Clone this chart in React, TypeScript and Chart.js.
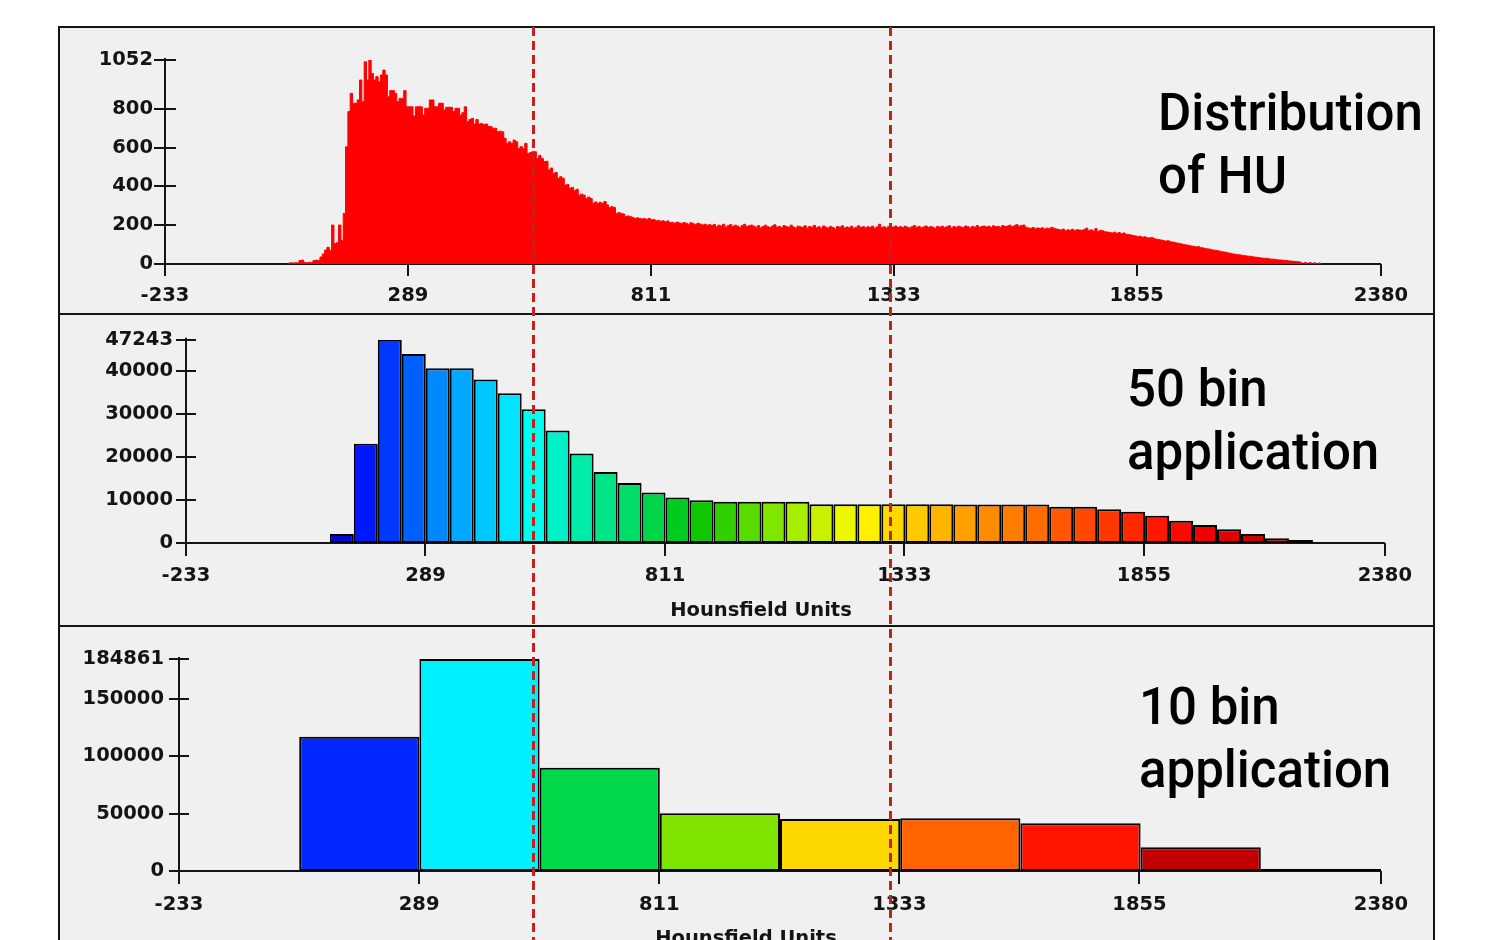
import React, { useEffect, useRef } from "react";
import { Chart, registerables } from "chart.js";

Chart.register(...registerables);

// ---------- shared axis ----------
const X_MIN = -233;
const X_MAX = 2380;
const X_TICKS = [-233, 289, 811, 1333, 1855, 2380];

// ---------- panel 1 : fine distribution of HU ----------
const HIST_START = 30; // HU of first bin
const HIST_BIN = 5; // HU per bin
const HIST_Y_TICKS = [0, 200, 400, 600, 800, 1052];
const HIST_VALUES = [
  4, 6, 5, 7, 6, 18, 20, 8, 6, 9,
  8, 18, 20, 19, 36, 52, 72, 86, 70, 201,
  105, 110, 201, 122, 261, 605, 786, 880, 829, 829,
  846, 949, 837, 1043, 949, 1052, 983, 949, 966, 940,
  975, 1000, 975, 863, 894, 894, 880, 837, 854, 854,
  894, 811, 811, 811, 763, 811, 811, 811, 768, 803,
  803, 846, 846, 811, 811, 829, 829, 794, 808, 808,
  808, 786, 803, 803, 768, 780, 811, 734, 745, 751,
  722, 745, 722, 725, 718, 722, 710, 708, 700, 700,
  682, 685, 682, 648, 622, 630, 622, 639, 630, 596,
  605, 596, 622, 570, 575, 579, 579, 545, 560, 545,
  528, 530, 485, 495, 468, 472, 442, 450, 442, 407,
  410, 390, 395, 378, 385, 355, 360, 355, 338, 345,
  338, 313, 320, 313, 318, 313, 322, 305, 292, 295,
  292, 261, 265, 261, 258, 244, 248, 244, 240, 235,
  238, 235, 232, 235, 230, 235, 228, 230, 223, 225,
  220, 223, 218, 222, 213, 215, 210, 216, 212, 208,
  214, 210, 205, 213, 208, 204, 210, 206, 201, 205,
  200, 203,
  198, 204, 192, 200, 196, 205, 190, 198, 203, 194, 200, 196, 188, 199, 205, 193, 197, 201,
  195, 190, 198, 186, 194, 200, 192, 188, 196, 202, 190, 194, 187, 198, 193, 189, 200, 191, 186, 195,
  192, 188, 197, 185, 193, 190, 199, 187, 192, 184, 196, 190, 186, 194, 188, 182, 193, 189, 197, 186,
  191, 187, 195, 184, 190, 197, 188, 193, 186, 192, 189, 195, 185, 191, 205, 188, 192, 186, 194, 189,
  191, 196, 188, 193, 187, 195, 190, 186, 192, 198, 189, 194, 187, 191, 196, 188, 193, 190, 185, 194,
  190, 195, 188, 192, 197, 186, 193, 189, 195, 191, 188, 196, 192, 187, 194, 190, 198, 189, 193, 196,
  191, 195, 188, 197, 192, 194, 189, 198, 193, 196, 200, 192, 197, 203, 195, 199,
  201, 190, 186, 184, 188, 182, 186, 183, 187, 180, 185, 182, 189, 184, 181,
  178, 175, 180, 172, 176, 174, 179, 171, 177, 175, 173, 178, 185, 172, 176, 170, 182, 168, 174, 171, 166,
  165, 162, 160, 164, 158, 162, 156, 160, 154, 152, 150, 147,
  145, 141, 143, 138, 140, 136, 134, 137, 131, 128, 126,
  124, 121, 118, 120, 115, 113, 110, 108, 106, 103, 100, 98,
  96, 93, 91, 88, 90, 85, 83, 80, 78, 76, 73,
  71, 69, 67, 64, 62, 60, 57, 55, 52, 50,
  48, 47, 45, 43, 41, 40, 38, 36, 35, 33,
  31, 30, 29, 28, 26, 25, 24, 22, 21, 20, 19, 18,
  16, 15, 14, 13, 12,
  9, 0, 8, 0, 7, 0, 6, 0, 5, 0,
];

// ---------- panel 2 : 50 bins ----------
const BIN50_COUNT = 50;
const BIN50_Y_TICKS = [0, 10000, 20000, 30000, 40000, 47243];
const BIN50_VALUES = [
  0, 0, 0, 0, 0, 0, 2080, 23090, 47243, 43930,
  40600, 40600, 37980, 34800, 31100, 26170, 20770, 16520, 13970, 11740,
  10580, 9960, 9570, 9570, 9570, 9570, 9030, 9030, 9000, 9000,
  9000, 9000, 8960, 8960, 8960, 8960, 8400, 8400, 7870, 7250,
  6330, 5170, 4170, 3170, 2080, 1080, 700, 80, 0, 0,
];
const BIN50_COLORS = [
  "#0000c8", "#0000c8", "#0000c8", "#0000c8", "#0000c8", "#0000c8", "#0008d8", "#0018ff", "#0038ff", "#0060ff",
  "#0088ff", "#00a8ff", "#00c8ff", "#00e4ff", "#00fff0", "#00f0c8", "#00eaa8", "#00e488", "#00dc68", "#00d448",
  "#00cc20", "#10c800", "#30d000", "#58dc00", "#80e600", "#a8ec00", "#c8f000", "#ecf800", "#fff000", "#ffd800",
  "#ffc800", "#ffb400", "#ffa000", "#ff8c00", "#ff7c00", "#ff6c00", "#ff5800", "#ff4800", "#ff3800", "#ff2800",
  "#ff1800", "#ff0800", "#f00000", "#e00000", "#cc0000", "#b80000", "#a00000", "#000000", "#000000", "#000000",
];

// ---------- panel 3 : 10 bins ----------
const BIN10_COUNT = 10;
const BIN10_Y_TICKS = [0, 50000, 100000, 150000, 184861];
const BIN10_VALUES = [0, 117100, 184861, 90000, 50300, 45300, 45900, 41600, 20700, 1800];
const BIN10_COLORS = [
  "#0028ff", "#0028ff", "#00f0ff", "#00d84a", "#80e400",
  "#ffd700", "#ff6400", "#ff1400", "#c00000", "#000000",
];

// ---------- styling ----------
const INK = "#141414";
const TICK_FONT = { family: "'DejaVu Sans', Verdana, sans-serif", size: 19.5, weight: "bold" as const };
const PANEL_BG = "#f0f0f0";

const axesPlugin = {
  id: "hAxes",
  beforeDatasetsDraw(chart: any, _args: any, opts: any) {
    const { ctx, chartArea, scales } = chart;
    const { left, right, top, bottom } = chartArea;
    const x = scales.x;
    const y = scales.y;
    ctx.save();
    ctx.strokeStyle = INK;
    ctx.lineWidth = 2;
    ctx.beginPath();
    ctx.moveTo(left, top - 2);
    ctx.lineTo(left, bottom + opts.xTick);
    ctx.moveTo(left, bottom);
    ctx.lineTo(right, bottom);
    y.ticks.forEach((t: any) => {
      const py = Math.round(y.getPixelForValue(t.value));
      ctx.moveTo(left - opts.yTick, py);
      ctx.lineTo(left + opts.yTick, py);
    });
    x.ticks.forEach((t: any) => {
      const px = Math.round(x.getPixelForValue(t.value));
      ctx.moveTo(px, bottom);
      ctx.lineTo(px, bottom + opts.xTick);
    });
    ctx.stroke();
    ctx.restore();
  },
};

function makeX(height: number, pad: number) {
  return {
    type: "linear" as const,
    min: X_MIN,
    max: X_MAX,
    bounds: "data" as const,
    offset: false,
    afterBuildTicks: (s: any) => {
      s.ticks = X_TICKS.map((v) => ({ value: v }));
    },
    afterFit: (s: any) => {
      s.height = height;
    },
    grid: { display: false, drawTicks: false, offset: false },
    border: { display: false },
    ticks: {
      autoSkip: false,
      maxRotation: 0,
      minRotation: 0,
      padding: pad,
      color: INK,
      font: TICK_FONT,
      callback: (v: any) => String(v),
    },
  };
}

function makeY(ticks: number[], width: number, pad: number) {
  return {
    type: "linear" as const,
    min: 0,
    max: ticks[ticks.length - 1],
    bounds: "data" as const,
    afterBuildTicks: (s: any) => {
      s.ticks = ticks.map((v) => ({ value: v }));
    },
    afterFit: (s: any) => {
      s.width = width;
    },
    grid: { display: false, drawTicks: false },
    border: { display: false },
    ticks: {
      autoSkip: false,
      padding: pad,
      color: INK,
      font: TICK_FONT,
      callback: (v: any) => String(v),
    },
  };
}

const basePlugins = { legend: { display: false }, tooltip: { enabled: false } };

function cfgHist(): any {
  return {
    type: "line",
    data: {
      datasets: [
        {
          data: HIST_VALUES.map((v, i) => ({ x: HIST_START + HIST_BIN * (i + 0.5), y: v })),
          stepped: "middle",
          fill: "origin",
          backgroundColor: "#ff0000",
          borderColor: "#ff0000",
          borderWidth: 1,
          pointRadius: 0,
        },
      ],
    },
    options: {
      responsive: false,
      animation: false,
      events: [],
      layout: { padding: { top: 32, right: 52, left: 0, bottom: 0 } },
      plugins: { ...basePlugins, hAxes: { xTick: 12, yTick: 11 } },
      scales: { x: makeX(49, 20), y: makeY(HIST_Y_TICKS, 105, 12) },
    },
    plugins: [axesPlugin],
  };
}

function cfgBins(values: number[], colors: string[], count: number, yTicks: number[], yWidth: number, yPad: number, top: number, right: number, xHeight: number, xPad: number): any {
  const w = (X_MAX - X_MIN) / count;
  return {
    type: "bar",
    data: {
      datasets: [
        {
          data: values.map((v, i) => ({ x: X_MIN + w * (i + 0.5), y: v })),
          backgroundColor: colors,
          borderColor: "#000000",
          borderWidth: 2,
          borderSkipped: false,
          inflateAmount: 0,
          barPercentage: 1,
          categoryPercentage: 1,
        },
      ],
    },
    options: {
      responsive: false,
      animation: false,
      events: [],
      layout: { padding: { top, right, left: 0, bottom: 0 } },
      plugins: { ...basePlugins, hAxes: { xTick: 13, yTick: 10 } },
      scales: { x: makeX(xHeight, xPad), y: makeY(yTicks, yWidth, yPad) },
    },
    plugins: [axesPlugin],
  };
}

const bigText: React.CSSProperties = {
  position: "absolute",
  fontFamily: "Roboto, 'Liberation Sans', sans-serif",
  fontWeight: 500,
  fontSize: 51,
  lineHeight: "63px",
  color: "#000",
  whiteSpace: "pre",
};

const axisTitle: React.CSSProperties = {
  position: "absolute",
  width: 300,
  textAlign: "center",
  fontFamily: "'DejaVu Sans', Verdana, sans-serif",
  fontWeight: "bold",
  fontSize: 19.5,
  lineHeight: "20px",
  color: INK,
  whiteSpace: "pre",
};

const dash: React.CSSProperties = {
  position: "absolute",
  top: 27,
  width: 3,
  height: 913,
  background: "repeating-linear-gradient(to bottom, #c81e1e 0px, #c81e1e 9px, transparent 9px, transparent 14px)",
};

export default function App() {
  const c1 = useRef<HTMLCanvasElement>(null);
  const c2 = useRef<HTMLCanvasElement>(null);
  const c3 = useRef<HTMLCanvasElement>(null);

  useEffect(() => {
    const charts = [
      new Chart(c1.current as HTMLCanvasElement, cfgHist()),
      new Chart(c2.current as HTMLCanvasElement, cfgBins(BIN50_VALUES, BIN50_COLORS, BIN50_COUNT, BIN50_Y_TICKS, 126, 13, 24, 40, 82, 21)),
      new Chart(c3.current as HTMLCanvasElement, cfgBins(BIN10_VALUES, BIN10_COLORS, BIN10_COUNT, BIN10_Y_TICKS, 119, 15, 32, 52, 86, 22)),
    ];
    return () => charts.forEach((c) => c.destroy());
  }, []);

  const canvasStyle = (top: number, h: number): React.CSSProperties => ({
    position: "absolute",
    left: 60,
    top,
    width: 1373,
    height: h,
    display: "block",
  });

  return (
    <div style={{ position: "absolute", left: 0, top: 0, width: 1489, height: 940, overflow: "hidden", background: "#fff" }}>
      <div style={{ position: "absolute", left: 58, top: 26, width: 1377, height: 1000, border: "2px solid #141414", boxSizing: "border-box", background: PANEL_BG }} />
      <div style={{ position: "absolute", left: 58, top: 313, width: 1377, height: 2, background: "#141414" }} />
      <div style={{ position: "absolute", left: 58, top: 625, width: 1377, height: 2, background: "#141414" }} />
      <canvas ref={c1} width={1373} height={285} style={canvasStyle(28, 285)} />
      <canvas ref={c2} width={1373} height={310} style={canvasStyle(315, 310)} />
      <canvas ref={c3} width={1373} height={330} style={canvasStyle(627, 330)} />
      <div style={{ ...bigText, left: 1158, top: 81 }}>{"Distribution\nof HU"}</div>
      <div style={{ ...bigText, left: 1127, top: 357 }}>{"50 bin\napplication"}</div>
      <div style={{ ...bigText, left: 1139, top: 675 }}>{"10 bin\napplication"}</div>
      <div style={{ ...axisTitle, left: 761 - 150, top: 600 }}>Hounsfield Units</div>
      <div style={{ ...axisTitle, left: 746 - 150, top: 928 }}>Hounsfield Units</div>
      <div style={{ ...dash, left: 532 }} />
      <div style={{ ...dash, left: 889 }} />
    </div>
  );
}
